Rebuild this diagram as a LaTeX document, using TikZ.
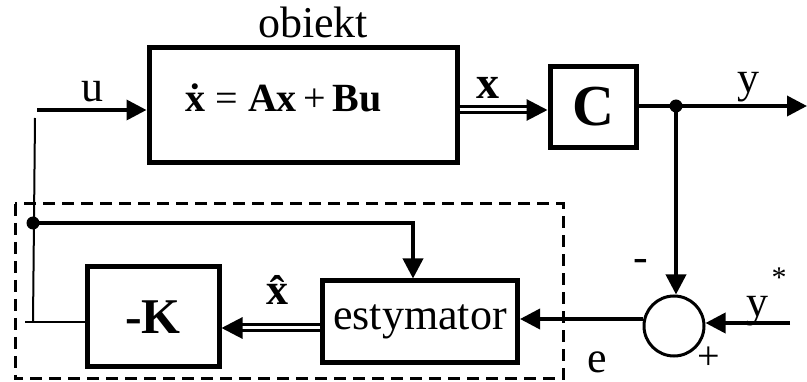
\documentclass[tikz,border=0pt]{standalone}
\usepackage{fontspec}
\setmainfont{Liberation Serif}
\usetikzlibrary{arrows.meta}

\tikzset{
  blok/.style={draw, line width=5pt, inner sep=0pt},
  sygnal/.style={line width=3.6pt, -{Triangle[length=20pt,width=20pt]}},
  wektor/.style={double, line width=3pt, double distance=3pt, -{Triangle[length=21pt,width=21pt]}},
  cienka/.style={line width=2pt},
  punkt/.style={circle, fill, inner sep=0pt, minimum size=13pt},
}

\begin{document}
\begin{tikzpicture}[x=1pt, y=-1pt, font=\fontsize{44}{48}\selectfont]
\useasboundingbox (0,0) rectangle (807,382);

% bloki
\node[blok, minimum width=308pt, minimum height=115pt] (obj) at (303,105.5) {};
\node[blok, minimum width=86pt, minimum height=81pt] (C) at (593,107) {\fontsize{58}{60}\selectfont\bfseries C};
\node[blok, minimum width=132pt, minimum height=100pt] (K) at (153,317) {\fontsize{50}{54}\selectfont\bfseries -K};
\node[blok, minimum width=195pt, minimum height=82pt] (est) at (420,322) {estymator};
\node[circle, draw, line width=3pt, minimum size=60pt] (sum) at (674,326) {};

% obszar estymatora
\draw[line width=3pt, dash pattern=on 12pt off 7pt] (15,204) rectangle (563,379);

% punkty i wolne konce
\node[punkt] (w1) at (676,106) {};
\node[punkt] (w2) at (33,223) {};
\coordinate (uin) at (37,110);
\coordinate (yout) at (807,106);
\coordinate (yzad) at (790,323);
\coordinate (fbtop) at (35,118);
\coordinate (fbbot) at (33,322);
\coordinate (fbleft) at (25,322);

% polaczenia
\draw[sygnal] (uin) -- (uin -| obj.west);
\draw[wektor] (obj.east |- 0,110) -- (C.west |- 0,110);
\draw[sygnal] (C.east |- w1) -- (yout);
\draw[sygnal] (w1.center) -- (w1 |- sum.north);
\draw[sygnal] (yzad) -- (yzad -| sum.east);
\draw[sygnal] (sum.west |- 0,319) -- (est.east |- 0,319);
\draw[wektor] (est.west |- 0,328) -- (K.east |- 0,328);
\draw[sygnal] (w2.center) -| ([xshift=-7pt]est.north);
\draw[cienka] (fbtop) -- (fbbot);
\draw[cienka] (fbleft) -- (fbleft -| K.west);

% opisy
\node[anchor=base] (tobj) at (313,38) {obiekt};
\node[anchor=base west, font=\fontsize{40}{44}\selectfont] (teq) at (182,112)
  {\textbf{\.x} = \textbf{Ax}\,+\,\textbf{Bu}};
\node[anchor=base] (tu) at (92,102) {u};
\node[anchor=base] (tx) at (488,99) {\fontsize{46}{50}\selectfont\bfseries x};
\node[anchor=base] (ty) at (748,93) {y};
\node[anchor=base] (txh) at (277,305) {\bfseries \^x};
\node (tminus) at (641,265) {-};
\node[anchor=base] (tyz) at (757,317) {y};
\node (tstar) at (779,278) {\fontsize{30}{32}\selectfont *};
\node[inner sep=0pt, font=\fontsize{40}{40}\selectfont] (tplus) at (709,358) {+};
\node[anchor=base, inner sep=0pt] (te) at (597,373) {e};
\end{tikzpicture}
\end{document}
